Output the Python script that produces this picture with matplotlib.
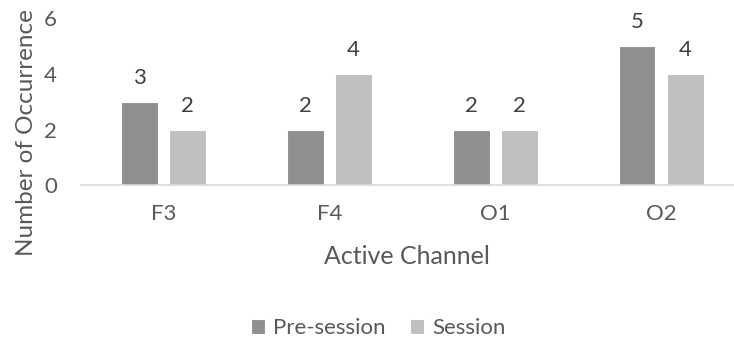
import matplotlib.pyplot as plt
import numpy as np

plt.rcParams['font.family'] = ['Lato', 'DejaVu Sans']

channels = ['F3', 'F4', 'O1', 'O2']
pre_session = [3, 2, 2, 5]
session = [2, 4, 2, 4]

dark = '#8f8f8f'
light = '#bfbfbf'
text_col = '#595959'

fig = plt.figure(figsize=(7.34, 3.38), dpi=100)
ax = fig.add_axes([80.5 / 734, 1 - 185 / 338, (734 - 80.5) / 734, (185 - 18.5) / 338])

x = np.arange(len(channels))
w = 0.223
off = 0.145
b1 = ax.bar(x - off, pre_session, w, color=dark, edgecolor='white', linewidth=0.8, label='Pre-session')
b2 = ax.bar(x + off, session, w, color=light, edgecolor='white', linewidth=0.8, label='Session')

# value labels above each bar
for bars in (b1, b2):
    for rect in bars:
        h = rect.get_height()
        ax.text(rect.get_x() + rect.get_width() / 2, h + 0.5, f'{h:g}',
                ha='center', va='bottom', fontsize=16, color='#404040')

ax.set_xlim(-0.5, 3.5 - 10 / 166)
ax.set_ylim(0, 6)
ax.set_yticks([0, 2, 4, 6])
ax.set_xticks(x)
ax.set_xticklabels(channels)
ax.tick_params(axis='both', length=0, labelsize=16, labelcolor=text_col)
ax.tick_params(axis='y', pad=17)
ax.tick_params(axis='x', pad=14)

for s in ['top', 'right', 'left']:
    ax.spines[s].set_visible(False)
ax.spines['bottom'].set_color('#d9d9d9')
ax.spines['bottom'].set_linewidth(1.2)

ax.set_xlabel('Active Channel', fontsize=18, color=text_col, labelpad=15)
# y title sits partly past the left edge of the figure
fig.text(33 / 734, 1 - 133 / 338, 'Number of Occurrence', rotation=90,
         rotation_mode='anchor', ha='center', va='baseline',
         fontsize=17.5, color=text_col)

fig.legend(handles=[b1, b2], loc='center', bbox_to_anchor=(378 / 734, 1 - 328 / 338),
           ncol=2, frameon=False, fontsize=16, handlelength=0.65, handleheight=0.65,
           handletextpad=0.35, columnspacing=1.1, labelcolor=text_col)

fig.savefig('out.png', dpi=100)
